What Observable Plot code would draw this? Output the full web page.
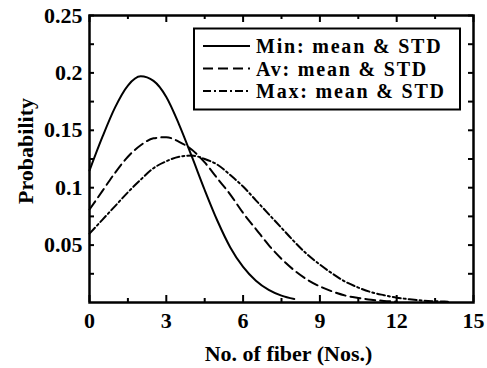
<!DOCTYPE html>
<html>
<head>
<meta charset="utf-8">
<script src="https://cdn.jsdelivr.net/npm/d3@7"></script>
<script src="https://cdn.jsdelivr.net/npm/@observablehq/plot@0.6"></script>
<style>
  html, body { margin: 0; padding: 0; background: #fff; }
  #wrap { position: relative; width: 487px; height: 368px; }
  #legend { position: absolute; left: 0; top: 0; }
</style>
</head>
<body>
<div id="wrap"></div>
<script>
// ---- data ----
const fiberCount = [0, 0.5, 1, 1.5, 2, 2.5, 3, 3.5, 4, 4.5, 5, 5.5, 6, 6.5, 7, 7.5, 8, 8.5, 9, 9.5, 10, 10.5, 11, 11.5, 12, 12.5, 13, 13.5, 14];
const probMin = [0.115, 0.144, 0.170, 0.189, 0.197, 0.193, 0.179, 0.155, 0.127, 0.098, 0.071, 0.048, 0.031, 0.019, 0.011, 0.006, 0.003];
const probAv  = [0.081, 0.097, 0.113, 0.127, 0.137, 0.143, 0.144, 0.140, 0.133, 0.122, 0.108, 0.094, 0.078, 0.064, 0.050, 0.038, 0.028, 0.020, 0.014, 0.0095, 0.006, 0.004, 0.0024, 0.0014, 0.0008];
const probMax = [0.060, 0.072, 0.084, 0.096, 0.107, 0.117, 0.123, 0.127, 0.128, 0.125, 0.120, 0.111, 0.101, 0.089, 0.077, 0.065, 0.053, 0.042, 0.033, 0.025, 0.018, 0.013, 0.009, 0.0064, 0.0042, 0.0028, 0.0017, 0.0011, 0.0007];
const seriesNames = ["Min: mean & STD", "Av: mean & STD", "Max: mean & STD"];
const xTickLabels = [0, 3, 6, 9, 12, 15];
const xMinorTicks = [1.5, 4.5, 7.5, 10.5, 13.5];
const yTickLabels = [0.05, 0.1, 0.15, 0.2, 0.25];
const yMinorTicks = [0.025, 0.075, 0.125, 0.175, 0.225];
const xTitle = "No. of fiber (Nos.)";
const yTitle = "Probability";

// ---- styles ----
const dashes = ["none", "10,5", "8,3,2,3"];
const FONT = "'Liberation Serif', 'Times New Roman', serif";
const W = 487, H = 368, ML = 89, MR = 14, MT = 15, MB = 66;
const PW = W - ML - MR, PH = H - MT - MB;

const toRows = (vals) => vals.map((p, i) => ({x: fiberCount[i], p}));
const series = [probMin, probAv, probMax].map(toRows);

const plot = Plot.plot({
  width: W, height: H,
  marginLeft: ML, marginRight: MR, marginTop: MT, marginBottom: MB,
  style: {fontFamily: FONT, fontWeight: "bold", background: "#fff", color: "#000", overflow: "visible"},
  x: {domain: [0, 15]},
  y: {domain: [0, 0.25]},
  marks: [
    ...series.map((rows, i) => Plot.line(rows, {x: "x", y: "p", stroke: "#000", strokeWidth: 2, strokeDasharray: dashes[i], curve: "monotone-x"})),
    // inward ticks bottom/top
    Plot.ruleX(xTickLabels, {x: d => d, stroke: "#000", strokeWidth: 2, insetTop: PH - 7}),
    Plot.ruleX(xMinorTicks, {x: d => d, stroke: "#000", strokeWidth: 2, insetTop: PH - 4}),
    Plot.ruleX(xTickLabels, {x: d => d, stroke: "#000", strokeWidth: 2, insetBottom: PH - 7}),
    Plot.ruleX(xMinorTicks, {x: d => d, stroke: "#000", strokeWidth: 2, insetBottom: PH - 4}),
    // inward ticks left/right
    Plot.ruleY([...yTickLabels, ...yMinorTicks], {y: d => d, stroke: "#000", strokeWidth: 2, insetRight: PW - 5}),
    Plot.ruleY([...yTickLabels, ...yMinorTicks], {y: d => d, stroke: "#000", strokeWidth: 2, insetLeft: PW - 5}),
    Plot.frame({stroke: "#000", strokeWidth: 2.5}),
    Plot.axisX(xTickLabels, {tickSize: 0, tickPadding: 10, fontSize: 22, fontWeight: "bold", label: null}),
    Plot.axisY(yTickLabels, {tickSize: 0, tickPadding: 7, fontSize: 22, fontWeight: "bold", label: null, tickFormat: d => String(d)}),
    Plot.text([xTitle], {frameAnchor: "bottom", dy: 58, dx: 7, fontSize: 22, fontWeight: "bold", fill: "#000", style: {letterSpacing: "0.6px"}}),
    Plot.text([yTitle], {frameAnchor: "left", textAnchor: "middle", lineAnchor: "middle", dx: -64, dy: -8, rotate: -90, fontSize: 22, fontWeight: "bold", fill: "#000"})
  ]
});
document.getElementById("wrap").appendChild(plot);

// ---- legend overlay ----
const lg = d3.select("#wrap").append("svg").attr("id", "legend").attr("width", W).attr("height", H);
lg.append("rect").attr("x", 194).attr("y", 28.5).attr("width", 266).attr("height", 81)
  .attr("fill", "#fff").attr("stroke", "#000").attr("stroke-width", 2);
seriesNames.forEach((name, i) => {
  const cy = 46 + i * 22.5;
  lg.append("line").attr("x1", 203).attr("x2", 250).attr("y1", cy).attr("y2", cy)
    .attr("stroke", "#000").attr("stroke-width", 2).attr("stroke-dasharray", dashes[i]);
  lg.append("text").attr("x", 256).attr("y", cy).attr("dy", "0.35em")
    .attr("font-family", FONT).attr("font-weight", "bold").attr("font-size", 20)
    .attr("letter-spacing", "1.8px")
    .text(name);
});
</script>
</body>
</html>
